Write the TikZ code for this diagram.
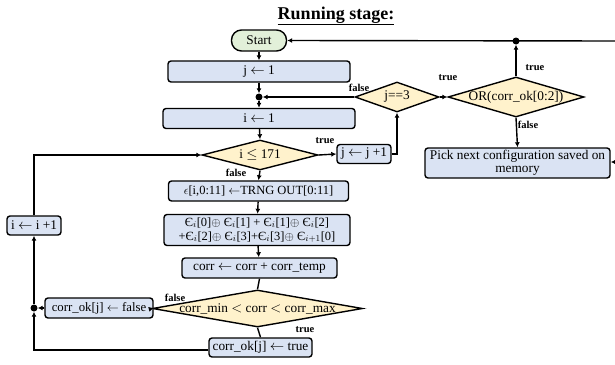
\documentclass[tikz,border=0pt]{standalone}
\usepackage{fontspec}
\setmainfont{Liberation Serif}
\usetikzlibrary{shapes.geometric,arrows.meta}
\definecolor{procblue}{RGB}{218,227,243}
\definecolor{decgold}{RGB}{255,242,204}
\definecolor{termgreen}{RGB}{226,240,217}
\newcommand\Eps[1]{Є\ensuremath{_{#1}}}
\tikzset{
  proc/.style={draw, line width=1.4pt, rounded corners=3pt, fill=procblue,
    inner sep=0pt, align=center, font=\fontsize{13.3}{14}\selectfont},
  term/.style={draw, line width=1.4pt, rounded corners=10pt, fill=termgreen,
    inner sep=0pt, font=\fontsize{13.3}{14}\selectfont},
  dec/.style={draw, diamond, line width=1.4pt, fill=decgold, inner sep=0pt},
  dectext/.style={font=\fontsize{13.3}{14}\selectfont, inner sep=0pt},
  junction/.style={circle, fill=black, inner sep=0pt, minimum size=7pt},
  flow/.style={line width=1.4pt, -{Latex[length=5pt,width=5pt]}},
  plain/.style={line width=1.4pt},
  tag/.style={font=\fontsize{10.5}{12}\selectfont\bfseries, inner sep=0pt},
}
\begin{document}
\begin{tikzpicture}[x=1pt,y=-1pt]
\useasboundingbox (0,0) rectangle (615,364);

\node[font=\fontsize{18}{20}\selectfont\bfseries] (title) at (336,16) {\underline{Running stage:}};

% main column
\node[term, minimum width=55pt, minimum height=21pt] (start) at (259,40.5) {Start};
\node[proc, minimum width=182pt, minimum height=21pt] (j1) at (259,71.5) {j $\leftarrow$ 1};
\node[junction] (dot1) at (259,97) {};
\node[proc, minimum width=192pt, minimum height=20pt] (i1) at (259,118.5) {i $\leftarrow$ 1};
\node[dec, minimum width=116pt, minimum height=30pt] (d1) at (260,155) {};
\node[dectext] (d1t) at (d1) {i $\leq$ 171};
\node[proc, minimum width=180pt, minimum height=20pt, font=\fontsize{12.5}{14}\selectfont] (eps) at (258.5,191)
  {$\epsilon$[i,0:11] $\leftarrow$TRNG OUT[0:11]};
\node[proc, minimum width=186pt, minimum height=31pt, font=\fontsize{12.5}{14}\selectfont] (form) at (257,230)
  {\Eps{i}[0]$\oplus$ \Eps{i}[1] + \Eps{i}[1]$\oplus$ \Eps{i}[2]\\
   +\Eps{i}[2]$\oplus$ \Eps{i}[3]+\Eps{i}[3]$\oplus$ \Eps{i+1}[0]};
\node[proc, minimum width=155pt, minimum height=20pt] (corr) at (259.5,268)
  {corr $\leftarrow$ corr + corr\_temp};
\node[dec, minimum width=210pt, minimum height=37pt] (d4) at (257.5,308.5) {};
\node[dectext] (d4t) at (d4) {corr\_min $<$ corr $<$ corr\_max};
\node[proc, minimum width=103pt, minimum height=19pt] (okt) at (260.5,347.5)
  {corr\_ok[j] $\leftarrow$ true};

% left loop
\node[proc, minimum width=108pt, minimum height=20pt, font=\fontsize{12.8}{14}\selectfont] (okf) at (99,308)
  {corr\_ok[j] $\leftarrow$ false};
\node[junction] (dot2) at (34,308) {};
\node[proc, minimum width=54pt, minimum height=19pt] (iinc) at (34,225.5) {i $\leftarrow$ i +1};

% right part
\node[proc, minimum width=54pt, minimum height=19pt] (jinc) at (364,154) {j $\leftarrow$ j +1};
\node[dec, minimum width=84pt, minimum height=30pt] (d2) at (397,97) {};
\node[dectext] (d2t) at (d2) {j==3};
\node[dec, minimum width=136pt, minimum height=40pt] (d3) at (516,97) {};
\node[dectext] (d3t) at (d3) {OR(corr\_ok[0:2])};
\node[proc, minimum width=185pt, minimum height=30pt, font=\fontsize{13.3}{13.5}\selectfont] (pick) at (517.5,163)
  {Pick next configuration saved on\\memory};
\node[junction] (dot3) at (516,41) {};
\coordinate (edgeA) at (615,41);
\coordinate (edgeB) at (615,162);

% connectors
\draw[flow] (start) -- (j1);
\draw[flow] (j1) -- (dot1);
\draw[flow] (dot1) -- (i1);
\draw[flow] (d2.west) -- (dot1);
\draw[flow] (i1) -- (d1.north);
\draw[flow] (d1.east) -- (jinc.west);
\draw[flow] (jinc.east) -| (d2.south);
\draw[flow] (d2.east) -- (d3.west);
\draw[flow] (d3.north) -- (dot3);
\draw[flow] (edgeA) -- (start.east);
\draw[flow] (d3.south) -- (pick.north);
\draw[flow] (edgeB) -- (pick.east |- edgeB);
\draw[flow] (d1.south) -- (eps.north);
\draw[flow] (eps) -- (form);
\draw[flow] (form) -- (corr);
\draw[plain] (corr.south) -- (d4.north);
\draw[plain] (d4.south) -- (okt.north);
\draw[flow] (d4.west) -- (okf.east);
\draw[flow] (okf.west) -- (dot2);
\draw[flow] ([yshift=-2.5pt]okt.west) -| (dot2);
\draw[flow] (dot2) -- (iinc.south);
\draw[flow] (iinc.north) |- (d1.west);

% branch labels
\node[tag] at (359,88) {false};
\node[tag] at (448,78) {true};
\node[tag] at (535,68) {true};
\node[tag] at (528,125) {false};
\node[tag] at (325,141) {true};
\node[tag] at (236,173) {false};
\node[tag] at (175,298) {false};
\node[tag] at (305,330) {true};
\end{tikzpicture}
\end{document}
